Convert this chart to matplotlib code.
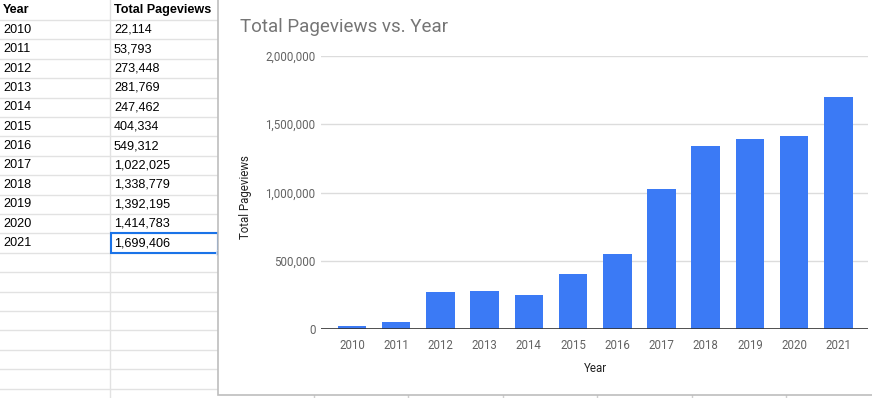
import matplotlib
matplotlib.use("Agg")
import matplotlib.pyplot as plt
from matplotlib.patches import Rectangle
from matplotlib.ticker import FuncFormatter

years = ["2010", "2011", "2012", "2013", "2014", "2015",
         "2016", "2017", "2018", "2019", "2020", "2021"]
pageviews = [22114, 53793, 273448, 281769, 247462, 404334,
             549312, 1022025, 1338779, 1392195, 1414783, 1699406]
col_headers = ["Year", "Total Pageviews"]

W, H = 872, 398
fig = plt.figure(figsize=(W / 100, H / 100), dpi=100)

# spreadsheet behind the chart, in pixel coords
bg = fig.add_axes([0, 0, 1, 1])
bg.set_xlim(0, W)
bg.set_ylim(H, 0)
bg.axis("off")

row_h = 19.4
top = 20
grid_c = "#e2e2e2"
y = top
while y < H:
    bg.plot([0, 218], [y, y], color=grid_c, lw=1, zorder=1)
    y += row_h
bg.plot([110, 110], [0, H], color=grid_c, lw=1, zorder=1)

tfont = "Liberation Sans"
fs = 9.1
bg.text(3, top / 2, col_headers[0], fontsize=fs, fontweight="bold",
        family=tfont, va="center", ha="left", color="#000")
bg.text(114, top / 2, col_headers[1], fontsize=fs, fontweight="bold",
        family=tfont, va="center", ha="left", color="#000")
for i, (yr, v) in enumerate(zip(years, pageviews)):
    cy = top + row_h * i + row_h / 2
    bg.text(3, cy, yr, fontsize=fs, family=tfont, va="center", color="#000")
    bg.text(114, cy, f"{v:,}", fontsize=fs, family=tfont, va="center", color="#000")

# selected cell
sel_y = top + row_h * (len(years) - 1)
bg.add_patch(Rectangle((110.5, sel_y), 107.5, row_h, fill=False,
                       edgecolor="#1a73e8", lw=1.5, zorder=3))
bg.add_patch(Rectangle((216, sel_y + row_h - 2.5), 5, 5,
                       facecolor="#1a73e8", edgecolor="white", lw=0.5, zorder=4))

# chart panel
bg.add_patch(Rectangle((218, -2), 660, 397, facecolor="white",
                       edgecolor="#bdbdbd", lw=1.2, zorder=5))
for gx in [314, 408, 503, 597, 692, 786]:
    bg.plot([gx, gx], [395, H], color="#cfcfcf", lw=1, zorder=2)

bg.text(240, 27, "Total Pageviews vs. Year", fontsize=13.5, family="Roboto",
        color="#757575", va="center", ha="left", zorder=6)

# chart axes
left, right, ytop, ybot = 321, 868, 56, 329
ax = fig.add_axes([left / W, (H - ybot) / H, (right - left) / W, (ybot - ytop) / H])
ax.set_zorder(10)
ax.patch.set_alpha(0)

xs = range(len(years))
ax.bar(xs, pageviews, width=0.645, color="#3b7af5", zorder=3)
ax.set_xlim(-0.70, 11.67)
ax.set_ylim(0, 2000000)
ax.set_yticks([0, 500000, 1000000, 1500000, 2000000])
ax.yaxis.set_major_formatter(FuncFormatter(lambda v, p: f"{int(v):,}"))
ax.set_xticks(list(xs))
ax.set_xticklabels(years)
ax.grid(axis="y", color="#dcdcdc", lw=1, zorder=0)
ax.axhline(0, color="#333333", lw=1.2, zorder=4)
for s in ax.spines.values():
    s.set_visible(False)
ax.tick_params(axis="both", length=0, labelsize=8.3, labelcolor="#636363")
ax.tick_params(axis="y", pad=4)
ax.tick_params(axis="x", pad=7)
for lab in ax.get_xticklabels() + ax.get_yticklabels():
    lab.set_family("Roboto")

fig.text(595 / W, (H - 368) / H, "Year", fontsize=8.3, family="Roboto",
         color="#222222", ha="center", va="center", zorder=11)
fig.text(245 / W, (H - 197) / H, "Total Pageviews", fontsize=8.3, family="Roboto",
         color="#222222", ha="center", va="center", rotation=90, zorder=11)

fig.savefig("out.png", dpi=100)
